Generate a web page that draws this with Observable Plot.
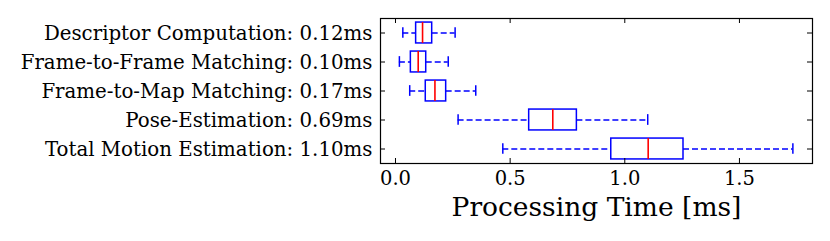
<!DOCTYPE html>
<html><head><meta charset="utf-8">
<script src="https://cdn.jsdelivr.net/npm/d3@7"></script>
<script src="https://cdn.jsdelivr.net/npm/@observablehq/plot@0.6"></script>
<style>
body{margin:0;background:#fff}
svg{font-family:"DejaVu Serif",serif}
</style></head><body><div id="chart"></div>
<script>
const categories = [
  "Descriptor Computation: 0.12ms",
  "Frame-to-Frame Matching: 0.10ms",
  "Frame-to-Map Matching: 0.17ms",
  "Pose-Estimation: 0.69ms",
  "Total Motion Estimation: 1.10ms"
];
const whiskerLow  = [0.032, 0.017, 0.062, 0.273, 0.468];
const q1          = [0.090, 0.067, 0.132, 0.583, 0.941];
const median      = [0.118, 0.099, 0.172, 0.686, 1.102];
const q3          = [0.160, 0.134, 0.221, 0.791, 1.256];
const whiskerHigh = [0.260, 0.230, 0.350, 1.100, 1.733];
const xTicks = [0, 0.5, 1.0, 1.5];
const xLabel = "Processing Time [ms]";

const rows = categories.map((c, i) => ({
  i: i + 1, name: c, lo: whiskerLow[i], q1: q1[i], med: median[i], q3: q3[i], hi: whiskerHigh[i]
}));
const yIdx = rows.map(d => d.i);

const W = 830, H = 241, mL = 380, mR = 18, mT = 18, mB = 78;
const pw = W - mL - mR, ph = H - mT - mB;
const BOX = 0.36, CAP = 0.185;
const blue = "#0000ff", red = "#ff0000";

const chart = Plot.plot({
  width: W, height: H,
  marginLeft: mL, marginRight: mR, marginTop: mT, marginBottom: mB,
  style: {fontFamily: "DejaVu Serif, serif", fontSize: "20px", color: "black", background: "white"},
  x: {domain: [-0.0654, 1.8186], axis: null},
  y: {domain: [0.5, 5.5], reverse: true, axis: null},
  marks: [
    Plot.ruleY(rows, {y: "i", x1: "lo", x2: "q1", stroke: blue, strokeWidth: 1.5, strokeDasharray: "6,3"}),
    Plot.ruleY(rows, {y: "i", x1: "q3", x2: "hi", stroke: blue, strokeWidth: 1.5, strokeDasharray: "6,3"}),
    Plot.ruleX(rows, {x: "lo", y1: d => d.i - CAP, y2: d => d.i + CAP, stroke: blue, strokeWidth: 1.5}),
    Plot.ruleX(rows, {x: "hi", y1: d => d.i - CAP, y2: d => d.i + CAP, stroke: blue, strokeWidth: 1.5}),
    Plot.rect(rows, {x1: "q1", x2: "q3", y1: d => d.i - BOX, y2: d => d.i + BOX, fill: "white", stroke: blue, strokeWidth: 1.5}),
    Plot.ruleX(rows, {x: "med", y1: d => d.i - BOX, y2: d => d.i + BOX, stroke: red, strokeWidth: 1.6}),
    Plot.frame({stroke: "black", strokeWidth: 1.2}),
    Plot.tickX(xTicks, {x: d => d, insetTop: ph - 5, stroke: "black"}),
    Plot.tickX(xTicks, {x: d => d, insetBottom: ph - 5, stroke: "black"}),
    Plot.tickY(yIdx, {y: d => d, insetRight: pw - 5, stroke: "black"}),
    Plot.tickY(yIdx, {y: d => d, insetLeft: pw - 5, stroke: "black"}),
    Plot.axisX(xTicks, {tickSize: 0, tickPadding: 8, tickFormat: d3.format(".1f"), label: null, fontSize: 19.5}),
    Plot.axisY(yIdx, {tickSize: 0, tickPadding: 8, tickFormat: i => categories[i - 1], label: null, fontSize: 19.8, dy: 1}),
    Plot.text([xLabel], {text: d => d, frameAnchor: "bottom", dy: 44, fontSize: 26.5, lineAnchor: "middle"})
  ]
});
document.getElementById("chart").appendChild(chart);
</script></body></html>
